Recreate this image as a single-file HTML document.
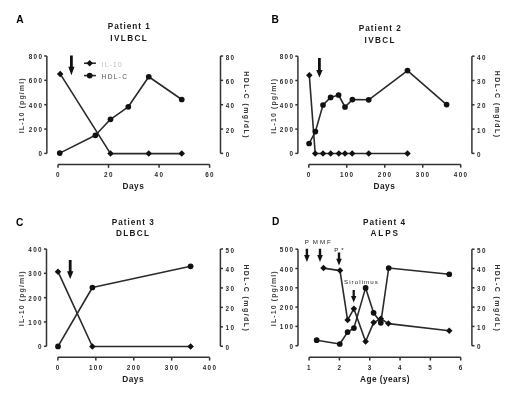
<!DOCTYPE html>
<html><head><meta charset="utf-8"><style>
html,body{margin:0;padding:0;background:#fff;}
svg{display:block;font-family:"Liberation Sans", sans-serif;will-change:transform;filter:blur(0.3px);}
</style></head><body>
<svg width="520" height="400" viewBox="0 0 520 400" font-family='"Liberation Sans", sans-serif'>
<rect width="520" height="400" fill="#fff"/>
<line x1="46.85" y1="56.00" x2="46.85" y2="153.40" stroke="#333" stroke-width="1.5"/>
<line x1="44.25" y1="153.40" x2="46.85" y2="153.40" stroke="#333" stroke-width="1.5"/>
<text class="tk" x="43.25" y="156.40" font-size="6.3" font-weight="bold" text-anchor="end" letter-spacing="1.35" fill="#2a2a2a" >0</text>
<line x1="44.25" y1="129.05" x2="46.85" y2="129.05" stroke="#333" stroke-width="1.5"/>
<text class="tk" x="43.25" y="132.05" font-size="6.3" font-weight="bold" text-anchor="end" letter-spacing="1.35" fill="#2a2a2a" >200</text>
<line x1="44.25" y1="104.70" x2="46.85" y2="104.70" stroke="#333" stroke-width="1.5"/>
<text class="tk" x="43.25" y="107.70" font-size="6.3" font-weight="bold" text-anchor="end" letter-spacing="1.35" fill="#2a2a2a" >400</text>
<line x1="44.25" y1="80.35" x2="46.85" y2="80.35" stroke="#333" stroke-width="1.5"/>
<text class="tk" x="43.25" y="83.35" font-size="6.3" font-weight="bold" text-anchor="end" letter-spacing="1.35" fill="#2a2a2a" >600</text>
<line x1="44.25" y1="56.00" x2="46.85" y2="56.00" stroke="#333" stroke-width="1.5"/>
<text class="tk" x="43.25" y="59.00" font-size="6.3" font-weight="bold" text-anchor="end" letter-spacing="1.35" fill="#2a2a2a" >800</text>
<line x1="220.50" y1="56.00" x2="220.50" y2="153.40" stroke="#333" stroke-width="1.5"/>
<line x1="220.50" y1="153.40" x2="223.10" y2="153.40" stroke="#333" stroke-width="1.5"/>
<text class="tk" x="225.70" y="156.90" font-size="6.3" font-weight="bold" text-anchor="start" letter-spacing="1.35" fill="#2a2a2a" >0</text>
<line x1="220.50" y1="129.05" x2="223.10" y2="129.05" stroke="#333" stroke-width="1.5"/>
<text class="tk" x="225.70" y="132.55" font-size="6.3" font-weight="bold" text-anchor="start" letter-spacing="1.35" fill="#2a2a2a" >20</text>
<line x1="220.50" y1="104.70" x2="223.10" y2="104.70" stroke="#333" stroke-width="1.5"/>
<text class="tk" x="225.70" y="108.20" font-size="6.3" font-weight="bold" text-anchor="start" letter-spacing="1.35" fill="#2a2a2a" >40</text>
<line x1="220.50" y1="80.35" x2="223.10" y2="80.35" stroke="#333" stroke-width="1.5"/>
<text class="tk" x="225.70" y="83.85" font-size="6.3" font-weight="bold" text-anchor="start" letter-spacing="1.35" fill="#2a2a2a" >60</text>
<line x1="220.50" y1="56.00" x2="223.10" y2="56.00" stroke="#333" stroke-width="1.5"/>
<text class="tk" x="225.70" y="59.50" font-size="6.3" font-weight="bold" text-anchor="start" letter-spacing="1.35" fill="#2a2a2a" >80</text>
<line x1="58.00" y1="164.50" x2="209.60" y2="164.50" stroke="#333" stroke-width="1.5"/>
<line x1="58.00" y1="164.50" x2="58.00" y2="167.80" stroke="#333" stroke-width="1.5"/>
<text class="tk" x="58.40" y="177.00" font-size="6.3" font-weight="bold" text-anchor="middle" letter-spacing="1.35" fill="#2a2a2a" >0</text>
<line x1="108.53" y1="164.50" x2="108.53" y2="167.80" stroke="#333" stroke-width="1.5"/>
<text class="tk" x="108.93" y="177.00" font-size="6.3" font-weight="bold" text-anchor="middle" letter-spacing="1.35" fill="#2a2a2a" >20</text>
<line x1="159.07" y1="164.50" x2="159.07" y2="167.80" stroke="#333" stroke-width="1.5"/>
<text class="tk" x="159.47" y="177.00" font-size="6.3" font-weight="bold" text-anchor="middle" letter-spacing="1.35" fill="#2a2a2a" >40</text>
<line x1="209.60" y1="164.50" x2="209.60" y2="167.80" stroke="#333" stroke-width="1.5"/>
<text class="tk" x="210.00" y="177.00" font-size="6.3" font-weight="bold" text-anchor="middle" letter-spacing="1.35" fill="#2a2a2a" >60</text>
<text x="133.40" y="189.00" font-size="8.3" font-weight="bold" text-anchor="middle" letter-spacing="0.5" fill="#222" >Days</text>
<text class="yl" transform="translate(24.30,105.30) rotate(-90)" font-size="7" font-weight="bold" text-anchor="middle" letter-spacing="1.1" fill="#444">IL-10 (pg/ml)</text>
<text class="yl" transform="translate(243.60,105.10) rotate(90)" font-size="7" font-weight="bold" text-anchor="middle" letter-spacing="1.42" fill="#333">HDL-C (mg/dL)</text>
<text x="129.20" y="28.80" font-size="8.2" font-weight="bold" text-anchor="middle" letter-spacing="0.98" fill="#1a1a1a" >Patient 1</text>
<text x="129.20" y="40.80" font-size="8.2" font-weight="bold" text-anchor="middle" letter-spacing="1.35" fill="#1a1a1a" >IVLBCL</text>
<text x="16.30" y="22.50" font-size="10.2" font-weight="bold" text-anchor="start" letter-spacing="0" fill="#000" >A</text>
<polyline points="60.20,73.90 110.50,153.60 148.75,153.60 181.75,153.60" fill="none" stroke="#2a2a2a" stroke-width="1.6" stroke-linejoin="round"/>
<polyline points="59.75,153.10 95.40,135.30 110.50,119.30 128.30,106.80 148.75,76.75 181.75,99.50" fill="none" stroke="#2a2a2a" stroke-width="1.6" stroke-linejoin="round"/>
<path d="M60.20 70.65L63.45 73.90L60.20 77.15L56.95 73.90Z" fill="#111"/>
<path d="M110.50 150.35L113.75 153.60L110.50 156.85L107.25 153.60Z" fill="#111"/>
<path d="M148.75 150.35L152.00 153.60L148.75 156.85L145.50 153.60Z" fill="#111"/>
<path d="M181.75 150.35L185.00 153.60L181.75 156.85L178.50 153.60Z" fill="#111"/>
<circle cx="59.75" cy="153.10" r="2.85" fill="#111"/>
<circle cx="95.40" cy="135.30" r="2.85" fill="#111"/>
<circle cx="110.50" cy="119.30" r="2.85" fill="#111"/>
<circle cx="128.30" cy="106.80" r="2.85" fill="#111"/>
<circle cx="148.75" cy="76.75" r="2.85" fill="#111"/>
<circle cx="181.75" cy="99.50" r="2.85" fill="#111"/>
<line x1="297.90" y1="56.20" x2="297.90" y2="153.40" stroke="#333" stroke-width="1.5"/>
<line x1="295.30" y1="153.40" x2="297.90" y2="153.40" stroke="#333" stroke-width="1.5"/>
<text class="tk" x="294.30" y="156.40" font-size="6.3" font-weight="bold" text-anchor="end" letter-spacing="1.35" fill="#2a2a2a" >0</text>
<line x1="295.30" y1="129.10" x2="297.90" y2="129.10" stroke="#333" stroke-width="1.5"/>
<text class="tk" x="294.30" y="132.10" font-size="6.3" font-weight="bold" text-anchor="end" letter-spacing="1.35" fill="#2a2a2a" >200</text>
<line x1="295.30" y1="104.80" x2="297.90" y2="104.80" stroke="#333" stroke-width="1.5"/>
<text class="tk" x="294.30" y="107.80" font-size="6.3" font-weight="bold" text-anchor="end" letter-spacing="1.35" fill="#2a2a2a" >400</text>
<line x1="295.30" y1="80.50" x2="297.90" y2="80.50" stroke="#333" stroke-width="1.5"/>
<text class="tk" x="294.30" y="83.50" font-size="6.3" font-weight="bold" text-anchor="end" letter-spacing="1.35" fill="#2a2a2a" >600</text>
<line x1="295.30" y1="56.20" x2="297.90" y2="56.20" stroke="#333" stroke-width="1.5"/>
<text class="tk" x="294.30" y="59.20" font-size="6.3" font-weight="bold" text-anchor="end" letter-spacing="1.35" fill="#2a2a2a" >800</text>
<line x1="471.90" y1="56.20" x2="471.90" y2="153.40" stroke="#333" stroke-width="1.5"/>
<line x1="471.90" y1="153.40" x2="474.50" y2="153.40" stroke="#333" stroke-width="1.5"/>
<text class="tk" x="477.10" y="156.90" font-size="6.3" font-weight="bold" text-anchor="start" letter-spacing="1.35" fill="#2a2a2a" >0</text>
<line x1="471.90" y1="129.10" x2="474.50" y2="129.10" stroke="#333" stroke-width="1.5"/>
<text class="tk" x="477.10" y="132.60" font-size="6.3" font-weight="bold" text-anchor="start" letter-spacing="1.35" fill="#2a2a2a" >10</text>
<line x1="471.90" y1="104.80" x2="474.50" y2="104.80" stroke="#333" stroke-width="1.5"/>
<text class="tk" x="477.10" y="108.30" font-size="6.3" font-weight="bold" text-anchor="start" letter-spacing="1.35" fill="#2a2a2a" >20</text>
<line x1="471.90" y1="80.50" x2="474.50" y2="80.50" stroke="#333" stroke-width="1.5"/>
<text class="tk" x="477.10" y="84.00" font-size="6.3" font-weight="bold" text-anchor="start" letter-spacing="1.35" fill="#2a2a2a" >30</text>
<line x1="471.90" y1="56.20" x2="474.50" y2="56.20" stroke="#333" stroke-width="1.5"/>
<text class="tk" x="477.10" y="59.70" font-size="6.3" font-weight="bold" text-anchor="start" letter-spacing="1.35" fill="#2a2a2a" >40</text>
<line x1="308.80" y1="164.40" x2="460.70" y2="164.40" stroke="#333" stroke-width="1.5"/>
<line x1="308.80" y1="164.40" x2="308.80" y2="167.70" stroke="#333" stroke-width="1.5"/>
<text class="tk" x="309.20" y="176.90" font-size="6.3" font-weight="bold" text-anchor="middle" letter-spacing="1.35" fill="#2a2a2a" >0</text>
<line x1="346.77" y1="164.40" x2="346.77" y2="167.70" stroke="#333" stroke-width="1.5"/>
<text class="tk" x="347.17" y="176.90" font-size="6.3" font-weight="bold" text-anchor="middle" letter-spacing="1.35" fill="#2a2a2a" >100</text>
<line x1="384.75" y1="164.40" x2="384.75" y2="167.70" stroke="#333" stroke-width="1.5"/>
<text class="tk" x="385.15" y="176.90" font-size="6.3" font-weight="bold" text-anchor="middle" letter-spacing="1.35" fill="#2a2a2a" >200</text>
<line x1="422.73" y1="164.40" x2="422.73" y2="167.70" stroke="#333" stroke-width="1.5"/>
<text class="tk" x="423.12" y="176.90" font-size="6.3" font-weight="bold" text-anchor="middle" letter-spacing="1.35" fill="#2a2a2a" >300</text>
<line x1="460.70" y1="164.40" x2="460.70" y2="167.70" stroke="#333" stroke-width="1.5"/>
<text class="tk" x="461.10" y="176.90" font-size="6.3" font-weight="bold" text-anchor="middle" letter-spacing="1.35" fill="#2a2a2a" >400</text>
<text x="384.40" y="189.00" font-size="8.3" font-weight="bold" text-anchor="middle" letter-spacing="0.5" fill="#222" >Days</text>
<text class="yl" transform="translate(275.90,105.90) rotate(-90)" font-size="7" font-weight="bold" text-anchor="middle" letter-spacing="1.1" fill="#444">IL-10 (pg/ml)</text>
<text class="yl" transform="translate(494.70,104.60) rotate(90)" font-size="7" font-weight="bold" text-anchor="middle" letter-spacing="1.42" fill="#333">HDL-C (mg/dL)</text>
<text x="380.20" y="30.90" font-size="8.2" font-weight="bold" text-anchor="middle" letter-spacing="0.98" fill="#1a1a1a" >Patient 2</text>
<text x="380.20" y="42.90" font-size="8.2" font-weight="bold" text-anchor="middle" letter-spacing="1.35" fill="#1a1a1a" >IVBCL</text>
<text x="271.50" y="22.50" font-size="10.2" font-weight="bold" text-anchor="start" letter-spacing="0" fill="#000" >B</text>
<polyline points="309.30,75.20 315.20,153.50 323.00,153.50 330.70,153.50 338.80,153.50 345.00,153.50 352.20,153.50 368.75,153.50 407.50,153.50" fill="none" stroke="#2a2a2a" stroke-width="1.6" stroke-linejoin="round"/>
<polyline points="309.10,143.50 315.40,131.60 323.00,105.00 330.60,97.40 338.60,95.00 345.00,107.00 352.40,99.60 368.70,99.80 407.50,70.60 446.60,104.60" fill="none" stroke="#2a2a2a" stroke-width="1.6" stroke-linejoin="round"/>
<path d="M309.30 71.95L312.55 75.20L309.30 78.45L306.05 75.20Z" fill="#111"/>
<path d="M315.20 150.25L318.45 153.50L315.20 156.75L311.95 153.50Z" fill="#111"/>
<path d="M323.00 150.25L326.25 153.50L323.00 156.75L319.75 153.50Z" fill="#111"/>
<path d="M330.70 150.25L333.95 153.50L330.70 156.75L327.45 153.50Z" fill="#111"/>
<path d="M338.80 150.25L342.05 153.50L338.80 156.75L335.55 153.50Z" fill="#111"/>
<path d="M345.00 150.25L348.25 153.50L345.00 156.75L341.75 153.50Z" fill="#111"/>
<path d="M352.20 150.25L355.45 153.50L352.20 156.75L348.95 153.50Z" fill="#111"/>
<path d="M368.75 150.25L372.00 153.50L368.75 156.75L365.50 153.50Z" fill="#111"/>
<path d="M407.50 150.25L410.75 153.50L407.50 156.75L404.25 153.50Z" fill="#111"/>
<circle cx="309.10" cy="143.50" r="2.85" fill="#111"/>
<circle cx="315.40" cy="131.60" r="2.85" fill="#111"/>
<circle cx="323.00" cy="105.00" r="2.85" fill="#111"/>
<circle cx="330.60" cy="97.40" r="2.85" fill="#111"/>
<circle cx="338.60" cy="95.00" r="2.85" fill="#111"/>
<circle cx="345.00" cy="107.00" r="2.85" fill="#111"/>
<circle cx="352.40" cy="99.60" r="2.85" fill="#111"/>
<circle cx="368.70" cy="99.80" r="2.85" fill="#111"/>
<circle cx="407.50" cy="70.60" r="2.85" fill="#111"/>
<circle cx="446.60" cy="104.60" r="2.85" fill="#111"/>
<line x1="46.50" y1="249.00" x2="46.50" y2="346.30" stroke="#333" stroke-width="1.5"/>
<line x1="43.90" y1="346.30" x2="46.50" y2="346.30" stroke="#333" stroke-width="1.5"/>
<text class="tk" x="42.90" y="349.30" font-size="6.3" font-weight="bold" text-anchor="end" letter-spacing="1.35" fill="#2a2a2a" >0</text>
<line x1="43.90" y1="321.98" x2="46.50" y2="321.98" stroke="#333" stroke-width="1.5"/>
<text class="tk" x="42.90" y="324.98" font-size="6.3" font-weight="bold" text-anchor="end" letter-spacing="1.35" fill="#2a2a2a" >100</text>
<line x1="43.90" y1="297.65" x2="46.50" y2="297.65" stroke="#333" stroke-width="1.5"/>
<text class="tk" x="42.90" y="300.65" font-size="6.3" font-weight="bold" text-anchor="end" letter-spacing="1.35" fill="#2a2a2a" >200</text>
<line x1="43.90" y1="273.32" x2="46.50" y2="273.32" stroke="#333" stroke-width="1.5"/>
<text class="tk" x="42.90" y="276.32" font-size="6.3" font-weight="bold" text-anchor="end" letter-spacing="1.35" fill="#2a2a2a" >300</text>
<line x1="43.90" y1="249.00" x2="46.50" y2="249.00" stroke="#333" stroke-width="1.5"/>
<text class="tk" x="42.90" y="252.00" font-size="6.3" font-weight="bold" text-anchor="end" letter-spacing="1.35" fill="#2a2a2a" >400</text>
<line x1="220.40" y1="249.00" x2="220.40" y2="346.30" stroke="#333" stroke-width="1.5"/>
<line x1="220.40" y1="346.30" x2="223.00" y2="346.30" stroke="#333" stroke-width="1.5"/>
<text class="tk" x="225.60" y="349.80" font-size="6.3" font-weight="bold" text-anchor="start" letter-spacing="1.35" fill="#2a2a2a" >0</text>
<line x1="220.40" y1="326.84" x2="223.00" y2="326.84" stroke="#333" stroke-width="1.5"/>
<text class="tk" x="225.60" y="330.34" font-size="6.3" font-weight="bold" text-anchor="start" letter-spacing="1.35" fill="#2a2a2a" >10</text>
<line x1="220.40" y1="307.38" x2="223.00" y2="307.38" stroke="#333" stroke-width="1.5"/>
<text class="tk" x="225.60" y="310.88" font-size="6.3" font-weight="bold" text-anchor="start" letter-spacing="1.35" fill="#2a2a2a" >20</text>
<line x1="220.40" y1="287.92" x2="223.00" y2="287.92" stroke="#333" stroke-width="1.5"/>
<text class="tk" x="225.60" y="291.42" font-size="6.3" font-weight="bold" text-anchor="start" letter-spacing="1.35" fill="#2a2a2a" >30</text>
<line x1="220.40" y1="268.46" x2="223.00" y2="268.46" stroke="#333" stroke-width="1.5"/>
<text class="tk" x="225.60" y="271.96" font-size="6.3" font-weight="bold" text-anchor="start" letter-spacing="1.35" fill="#2a2a2a" >40</text>
<line x1="220.40" y1="249.00" x2="223.00" y2="249.00" stroke="#333" stroke-width="1.5"/>
<text class="tk" x="225.60" y="252.50" font-size="6.3" font-weight="bold" text-anchor="start" letter-spacing="1.35" fill="#2a2a2a" >50</text>
<line x1="57.90" y1="357.30" x2="209.60" y2="357.30" stroke="#333" stroke-width="1.5"/>
<line x1="57.90" y1="357.30" x2="57.90" y2="360.60" stroke="#333" stroke-width="1.5"/>
<text class="tk" x="58.30" y="369.80" font-size="6.3" font-weight="bold" text-anchor="middle" letter-spacing="1.35" fill="#2a2a2a" >0</text>
<line x1="95.82" y1="357.30" x2="95.82" y2="360.60" stroke="#333" stroke-width="1.5"/>
<text class="tk" x="96.22" y="369.80" font-size="6.3" font-weight="bold" text-anchor="middle" letter-spacing="1.35" fill="#2a2a2a" >100</text>
<line x1="133.75" y1="357.30" x2="133.75" y2="360.60" stroke="#333" stroke-width="1.5"/>
<text class="tk" x="134.15" y="369.80" font-size="6.3" font-weight="bold" text-anchor="middle" letter-spacing="1.35" fill="#2a2a2a" >200</text>
<line x1="171.68" y1="357.30" x2="171.68" y2="360.60" stroke="#333" stroke-width="1.5"/>
<text class="tk" x="172.08" y="369.80" font-size="6.3" font-weight="bold" text-anchor="middle" letter-spacing="1.35" fill="#2a2a2a" >300</text>
<line x1="209.60" y1="357.30" x2="209.60" y2="360.60" stroke="#333" stroke-width="1.5"/>
<text class="tk" x="210.00" y="369.80" font-size="6.3" font-weight="bold" text-anchor="middle" letter-spacing="1.35" fill="#2a2a2a" >400</text>
<text x="133.20" y="381.50" font-size="8.3" font-weight="bold" text-anchor="middle" letter-spacing="0.5" fill="#222" >Days</text>
<text class="yl" transform="translate(24.30,298.20) rotate(-90)" font-size="7" font-weight="bold" text-anchor="middle" letter-spacing="1.1" fill="#444">IL-10 (pg/ml)</text>
<text class="yl" transform="translate(243.60,298.30) rotate(90)" font-size="7" font-weight="bold" text-anchor="middle" letter-spacing="1.42" fill="#333">HDL-C (mg/dL)</text>
<text x="133.20" y="224.60" font-size="8.2" font-weight="bold" text-anchor="middle" letter-spacing="0.98" fill="#1a1a1a" >Patient 3</text>
<text x="133.20" y="236.00" font-size="8.2" font-weight="bold" text-anchor="middle" letter-spacing="1.35" fill="#1a1a1a" >DLBCL</text>
<text x="16.10" y="225.50" font-size="10.2" font-weight="bold" text-anchor="start" letter-spacing="0" fill="#000" >C</text>
<polyline points="58.00,271.70 92.40,346.50 190.60,346.50" fill="none" stroke="#2a2a2a" stroke-width="1.6" stroke-linejoin="round"/>
<polyline points="58.00,346.40 92.40,287.50 190.60,266.30" fill="none" stroke="#2a2a2a" stroke-width="1.6" stroke-linejoin="round"/>
<path d="M58.00 268.45L61.25 271.70L58.00 274.95L54.75 271.70Z" fill="#111"/>
<path d="M92.40 343.25L95.65 346.50L92.40 349.75L89.15 346.50Z" fill="#111"/>
<path d="M190.60 343.25L193.85 346.50L190.60 349.75L187.35 346.50Z" fill="#111"/>
<circle cx="58.00" cy="346.40" r="2.85" fill="#111"/>
<circle cx="92.40" cy="287.50" r="2.85" fill="#111"/>
<circle cx="190.60" cy="266.30" r="2.85" fill="#111"/>
<line x1="298.00" y1="249.20" x2="298.00" y2="345.70" stroke="#333" stroke-width="1.5"/>
<line x1="295.40" y1="345.70" x2="298.00" y2="345.70" stroke="#333" stroke-width="1.5"/>
<text class="tk" x="294.40" y="348.70" font-size="6.3" font-weight="bold" text-anchor="end" letter-spacing="1.35" fill="#2a2a2a" >0</text>
<line x1="295.40" y1="326.40" x2="298.00" y2="326.40" stroke="#333" stroke-width="1.5"/>
<text class="tk" x="294.40" y="329.40" font-size="6.3" font-weight="bold" text-anchor="end" letter-spacing="1.35" fill="#2a2a2a" >100</text>
<line x1="295.40" y1="307.10" x2="298.00" y2="307.10" stroke="#333" stroke-width="1.5"/>
<text class="tk" x="294.40" y="310.10" font-size="6.3" font-weight="bold" text-anchor="end" letter-spacing="1.35" fill="#2a2a2a" >200</text>
<line x1="295.40" y1="287.80" x2="298.00" y2="287.80" stroke="#333" stroke-width="1.5"/>
<text class="tk" x="294.40" y="290.80" font-size="6.3" font-weight="bold" text-anchor="end" letter-spacing="1.35" fill="#2a2a2a" >300</text>
<line x1="295.40" y1="268.50" x2="298.00" y2="268.50" stroke="#333" stroke-width="1.5"/>
<text class="tk" x="294.40" y="271.50" font-size="6.3" font-weight="bold" text-anchor="end" letter-spacing="1.35" fill="#2a2a2a" >400</text>
<line x1="295.40" y1="249.20" x2="298.00" y2="249.20" stroke="#333" stroke-width="1.5"/>
<text class="tk" x="294.40" y="252.20" font-size="6.3" font-weight="bold" text-anchor="end" letter-spacing="1.35" fill="#2a2a2a" >500</text>
<line x1="471.90" y1="249.20" x2="471.90" y2="345.70" stroke="#333" stroke-width="1.5"/>
<line x1="471.90" y1="345.70" x2="474.50" y2="345.70" stroke="#333" stroke-width="1.5"/>
<text class="tk" x="477.10" y="349.20" font-size="6.3" font-weight="bold" text-anchor="start" letter-spacing="1.35" fill="#2a2a2a" >0</text>
<line x1="471.90" y1="326.40" x2="474.50" y2="326.40" stroke="#333" stroke-width="1.5"/>
<text class="tk" x="477.10" y="329.90" font-size="6.3" font-weight="bold" text-anchor="start" letter-spacing="1.35" fill="#2a2a2a" >10</text>
<line x1="471.90" y1="307.10" x2="474.50" y2="307.10" stroke="#333" stroke-width="1.5"/>
<text class="tk" x="477.10" y="310.60" font-size="6.3" font-weight="bold" text-anchor="start" letter-spacing="1.35" fill="#2a2a2a" >20</text>
<line x1="471.90" y1="287.80" x2="474.50" y2="287.80" stroke="#333" stroke-width="1.5"/>
<text class="tk" x="477.10" y="291.30" font-size="6.3" font-weight="bold" text-anchor="start" letter-spacing="1.35" fill="#2a2a2a" >30</text>
<line x1="471.90" y1="268.50" x2="474.50" y2="268.50" stroke="#333" stroke-width="1.5"/>
<text class="tk" x="477.10" y="272.00" font-size="6.3" font-weight="bold" text-anchor="start" letter-spacing="1.35" fill="#2a2a2a" >40</text>
<line x1="471.90" y1="249.20" x2="474.50" y2="249.20" stroke="#333" stroke-width="1.5"/>
<text class="tk" x="477.10" y="252.70" font-size="6.3" font-weight="bold" text-anchor="start" letter-spacing="1.35" fill="#2a2a2a" >50</text>
<line x1="309.10" y1="357.20" x2="460.70" y2="357.20" stroke="#333" stroke-width="1.5"/>
<line x1="309.10" y1="357.20" x2="309.10" y2="360.50" stroke="#333" stroke-width="1.5"/>
<text class="tk" x="309.50" y="369.70" font-size="6.3" font-weight="bold" text-anchor="middle" letter-spacing="1.35" fill="#2a2a2a" >1</text>
<line x1="339.42" y1="357.20" x2="339.42" y2="360.50" stroke="#333" stroke-width="1.5"/>
<text class="tk" x="339.82" y="369.70" font-size="6.3" font-weight="bold" text-anchor="middle" letter-spacing="1.35" fill="#2a2a2a" >2</text>
<line x1="369.74" y1="357.20" x2="369.74" y2="360.50" stroke="#333" stroke-width="1.5"/>
<text class="tk" x="370.14" y="369.70" font-size="6.3" font-weight="bold" text-anchor="middle" letter-spacing="1.35" fill="#2a2a2a" >3</text>
<line x1="400.06" y1="357.20" x2="400.06" y2="360.50" stroke="#333" stroke-width="1.5"/>
<text class="tk" x="400.46" y="369.70" font-size="6.3" font-weight="bold" text-anchor="middle" letter-spacing="1.35" fill="#2a2a2a" >4</text>
<line x1="430.38" y1="357.20" x2="430.38" y2="360.50" stroke="#333" stroke-width="1.5"/>
<text class="tk" x="430.78" y="369.70" font-size="6.3" font-weight="bold" text-anchor="middle" letter-spacing="1.35" fill="#2a2a2a" >5</text>
<line x1="460.70" y1="357.20" x2="460.70" y2="360.50" stroke="#333" stroke-width="1.5"/>
<text class="tk" x="461.10" y="369.70" font-size="6.3" font-weight="bold" text-anchor="middle" letter-spacing="1.35" fill="#2a2a2a" >6</text>
<text x="385.00" y="382.00" font-size="8.3" font-weight="bold" text-anchor="middle" letter-spacing="0.42" fill="#222" >Age (years)</text>
<text class="yl" transform="translate(275.90,298.20) rotate(-90)" font-size="7" font-weight="bold" text-anchor="middle" letter-spacing="1.1" fill="#444">IL-10 (pg/ml)</text>
<text class="yl" transform="translate(494.70,298.30) rotate(90)" font-size="7" font-weight="bold" text-anchor="middle" letter-spacing="1.42" fill="#333">HDL-C (mg/dL)</text>
<text x="384.60" y="224.60" font-size="8.2" font-weight="bold" text-anchor="middle" letter-spacing="0.98" fill="#1a1a1a" >Patient 4</text>
<text x="385.20" y="236.00" font-size="8.2" font-weight="bold" text-anchor="middle" letter-spacing="1.95" fill="#1a1a1a" >ALPS</text>
<text x="271.90" y="225.30" font-size="10.2" font-weight="bold" text-anchor="start" letter-spacing="0" fill="#000" >D</text>
<polyline points="323.50,268.10 340.00,270.60 347.60,320.10 353.90,308.70 365.60,341.50 373.60,322.60 380.80,318.80 388.40,323.60 449.25,330.75" fill="none" stroke="#2a2a2a" stroke-width="1.6" stroke-linejoin="round"/>
<polyline points="316.70,340.20 339.80,344.00 347.60,332.10 353.90,328.10 365.60,287.90 373.60,312.80 380.80,322.80 388.70,268.00 449.25,274.25" fill="none" stroke="#2a2a2a" stroke-width="1.6" stroke-linejoin="round"/>
<path d="M323.50 264.85L326.75 268.10L323.50 271.35L320.25 268.10Z" fill="#111"/>
<path d="M340.00 267.35L343.25 270.60L340.00 273.85L336.75 270.60Z" fill="#111"/>
<path d="M347.60 316.85L350.85 320.10L347.60 323.35L344.35 320.10Z" fill="#111"/>
<path d="M353.90 305.45L357.15 308.70L353.90 311.95L350.65 308.70Z" fill="#111"/>
<path d="M365.60 338.25L368.85 341.50L365.60 344.75L362.35 341.50Z" fill="#111"/>
<path d="M373.60 319.35L376.85 322.60L373.60 325.85L370.35 322.60Z" fill="#111"/>
<path d="M380.80 315.55L384.05 318.80L380.80 322.05L377.55 318.80Z" fill="#111"/>
<path d="M388.40 320.35L391.65 323.60L388.40 326.85L385.15 323.60Z" fill="#111"/>
<path d="M449.25 327.50L452.50 330.75L449.25 334.00L446.00 330.75Z" fill="#111"/>
<circle cx="316.70" cy="340.20" r="2.85" fill="#111"/>
<circle cx="339.80" cy="344.00" r="2.85" fill="#111"/>
<circle cx="347.60" cy="332.10" r="2.85" fill="#111"/>
<circle cx="353.90" cy="328.10" r="2.85" fill="#111"/>
<circle cx="365.60" cy="287.90" r="2.85" fill="#111"/>
<circle cx="373.60" cy="312.80" r="2.85" fill="#111"/>
<circle cx="380.80" cy="322.80" r="2.85" fill="#111"/>
<circle cx="388.70" cy="268.00" r="2.85" fill="#111"/>
<circle cx="449.25" cy="274.25" r="2.85" fill="#111"/>
<path d="M70.00 55.60H72.80V66.80H74.50L71.40 75.20L68.30 66.80H70.00Z" fill="#111"/>
<path d="M318.00 58.00H320.80V70.00H322.60L319.40 77.60L316.20 70.00H318.00Z" fill="#111"/>
<path d="M68.80 260.00H71.60V271.20H73.40L70.20 279.00L67.00 271.20H68.80Z" fill="#111"/>
<path d="M305.70 248.80H308.10V255.00H309.70L306.90 261.90L304.10 255.00H305.70Z" fill="#111"/>
<path d="M318.80 248.80H321.20V255.00H322.80L320.00 261.90L317.20 255.00H318.80Z" fill="#111"/>
<path d="M337.80 252.50H340.20V258.80H341.80L339.00 265.60L336.20 258.80H337.80Z" fill="#111"/>
<path d="M352.60 290.00H354.80V296.00H356.40L353.70 302.50L351.00 296.00H352.60Z" fill="#111"/>
<text x="306.70" y="244.40" font-size="6.2" font-weight="normal" text-anchor="middle" letter-spacing="0" fill="#262626" >P</text>
<text x="312.80" y="244.40" font-size="6.2" font-weight="normal" text-anchor="start" letter-spacing="2.0" fill="#262626" >MMF</text>
<text x="334.20" y="251.50" font-size="6.2" font-weight="normal" text-anchor="start" letter-spacing="3.0" fill="#262626" >P*</text>
<text x="344.00" y="284.30" font-size="6.2" font-weight="normal" text-anchor="start" letter-spacing="1.05" fill="#262626" >Sirolimus</text>
<line x1="84.00" y1="63.25" x2="95.90" y2="63.25" stroke="#2a2a2a" stroke-width="1.6"/>
<path d="M89.70 60.00L92.95 63.25L89.70 66.50L86.45 63.25Z" fill="#111"/>
<line x1="84.00" y1="75.60" x2="95.90" y2="75.60" stroke="#2a2a2a" stroke-width="1.6"/>
<circle cx="89.70" cy="75.60" r="2.85" fill="#111"/>
<text x="101.60" y="66.60" font-size="6.6" font-weight="normal" text-anchor="start" letter-spacing="1.25" fill="#b8b8b8" >IL-10</text>
<text x="101.60" y="78.60" font-size="6.6" font-weight="normal" text-anchor="start" letter-spacing="1.3" fill="#555" >HDL-C</text>
</svg>
</body></html>
